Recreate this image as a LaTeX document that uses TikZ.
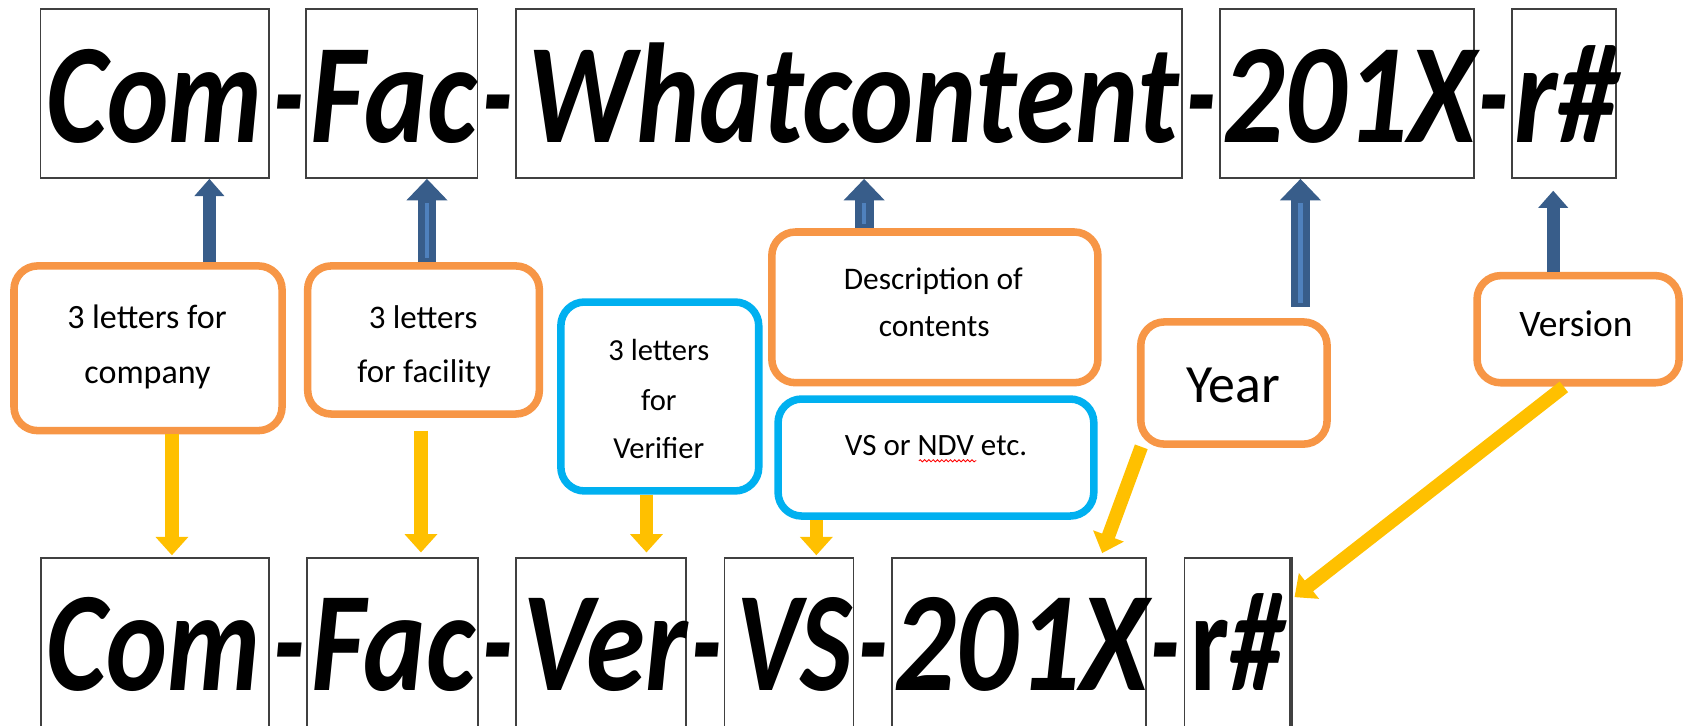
\documentclass[tikz,border=0pt]{standalone}
\usepackage{fontspec}
\setmainfont{Carlito}
\newfontfamily\bigf{Carlito}
\usepackage{graphicx}
\usetikzlibrary{arrows.meta,calc,decorations.pathmorphing}
\definecolor{arrblue}{HTML}{385D8A}
\definecolor{stripeblue}{HTML}{4F81BD}
\definecolor{orng}{HTML}{F79646}
\definecolor{cyanb}{HTML}{00B0F0}
\definecolor{yell}{HTML}{FFC000}
\definecolor{framec}{HTML}{404040}
\newlength\fitlen
\newcommand\fitw[2]{\settowidth\fitlen{#2}\pgfmathsetmacro\fitfac{#1/\fitlen}\scalebox{\fitfac}[1]{#2}}
\newcommand\BW{\bigf\fontsize{66pt}{70pt}\selectfont\bfseries\itshape}
\newcommand\BU{\bigf\fontsize{66pt}{70pt}\selectfont\bfseries\upshape}
\tikzset{
  wordbox/.style={draw=framec, line width=0.8pt, inner sep=0pt},
  bigtxt/.style={inner sep=0pt, anchor=base},
  obox/.style={draw=orng, line width=3.5pt, rounded corners=11pt, inner sep=0pt, fill=white},
  cbox/.style={draw=cyanb, line width=3.5pt, rounded corners=11pt, inner sep=0pt, fill=white},
  smalltxt/.style={inner sep=0pt, anchor=base},
  bluesm/.style={draw=arrblue, line width=6.25pt, -{Triangle[width=13.5pt,length=8pt]}},
  bluebig/.style={draw=arrblue, line width=8.75pt, -{Triangle[width=18.5pt,length=10pt]}},
  stripe/.style={draw=stripeblue, line width=2pt},
  yarrow/.style={draw=yell, line width=6.3pt, -{Triangle[width=14.7pt,length=8.5pt]}},
}
\begin{document}
\begin{tikzpicture}[x=0.5pt,y=-0.5pt]
\useasboundingbox (0,0) rectangle (1568,674);
\clip (0,0) rectangle (1568,674);
\fill[white] (0,0) rectangle (1568,674);

% top word boxes
\node[wordbox, minimum width=106.15pt, minimum height=78.45pt] (tCom) at (143.65,86.9) {};
\node[wordbox, minimum width=79.6pt, minimum height=78.45pt] (tFac) at (364,86.9) {};
\node[wordbox, minimum width=309.35pt, minimum height=78.45pt] (tWhat) at (788.35,86.9) {};
\node[wordbox, minimum width=118pt, minimum height=78.45pt] (tYear) at (1251,86.9) {};
\node[wordbox, minimum width=48.2pt, minimum height=78.45pt] (tRev) at (1452.8,86.9) {};

% top words
\node[bigtxt] (wCom) at (143.5,132) {\fitw{100.4pt}{\BW Com}};
\node[bigtxt] (wd1) at (267.9,132) {\fitw{14.15pt}{\BW -}};
\node[bigtxt] (wFac) at (365.75,132) {\fitw{77.15pt}{\BW Fac}};
\node[bigtxt] (wd2) at (462,132) {\fitw{14pt}{\BW -}};
\node[bigtxt] (wWhat) at (792.5,132) {\fitw{302.3pt}{\BW Whatcontent}};
\node[bigtxt] (wd3) at (1115.3,132) {\fitw{13.6pt}{\BW -}};
\node[bigtxt] (wYear) at (1253.1,132) {\fitw{117.9pt}{\BW 201X}};
\node[bigtxt] (wd4) at (1387.6,132) {\fitw{13.85pt}{\BW -}};
\node[bigtxt] (wRev) at (1455.1,132) {\fitw{48.3pt}{\BW r\#}};

% bottom word boxes
\node[wordbox, minimum width=105.8pt, minimum height=111pt] (bCom) at (143.8,629) {};
\node[wordbox, minimum width=79.35pt, minimum height=111pt] (bFac) at (364.35,629) {};
\node[wordbox, minimum width=79.2pt, minimum height=111pt] (bVer) at (558.2,629) {};
\node[wordbox, minimum width=59.85pt, minimum height=111pt] (bVS) at (732.85,629) {};
\node[wordbox, minimum width=118.05pt, minimum height=111pt] (bYear) at (946.55,629) {};
\node[wordbox, minimum width=49.1pt, minimum height=111pt] (bRev) at (1149.5,629) {};
\draw[framec, line width=1.6pt] (bRev.north east) -- (bRev.south east);

% bottom words
\node[bigtxt] (vCom) at (143,641) {\fitw{99.55pt}{\BW Com}};
\node[bigtxt] (vd1) at (268.5,641) {\fitw{14.5pt}{\BW -}};
\node[bigtxt] (vFac) at (365,641) {\fitw{76pt}{\BW Fac}};
\node[bigtxt] (vd2) at (461.75,641) {\fitw{14pt}{\BW -}};
\node[bigtxt] (vVer) at (562,641) {\fitw{77pt}{\BW Ver}};
\node[bigtxt] (vd3) at (656,641) {\fitw{14pt}{\BW -}};
\node[bigtxt] (vVS) at (737.6,641) {\fitw{53.9pt}{\BW VS}};
\node[bigtxt] (vd4) at (810.5,641) {\fitw{13.5pt}{\BW -}};
\node[bigtxt] (vYear) at (948.5,641) {\fitw{118.5pt}{\BW 201X}};
\node[bigtxt] (vd5) at (1082.3,641) {\fitw{13.5pt}{\BW -}};
\node[bigtxt] (vRev) at (1150.5,641) {\fitw{45pt}{\BU r\textit{\#}}};

\coordinate (yTail) at (1208,285);

% callout boxes
\node[obox, minimum width=124.5pt, minimum height=76.5pt] (cComp) at (137.5,323.5) {};
\node[obox, minimum width=107.6pt, minimum height=68.8pt] (cFac) at (393.4,315.8) {};
\node[cbox, minimum width=91.9pt, minimum height=87.75pt] (cVer) at (612.9,368.3) {};
\node[obox, minimum width=151.45pt, minimum height=70pt] (cDesc) at (868.4,285.5) {};
\node[cbox, minimum width=146.65pt, minimum height=54.35pt] (cVS) at (869.4,425) {};
\node[obox, minimum width=86.55pt, minimum height=56.75pt] (cYear) at (1146.2,355.8) {};
\node[obox, minimum width=93.85pt, minimum height=49.75pt] (cVersion) at (1465.9,305.8) {};

% callout texts
\node[smalltxt, font=\fontsize{15.8pt}{19pt}\selectfont] (tx1) at (136.5,305) {3 letters for};
\node[smalltxt, font=\fontsize{15.8pt}{19pt}\selectfont] (tx2) at (137,356) {company};
\node[smalltxt, font=\fontsize{15.3pt}{19pt}\selectfont] (tx3) at (393,305) {3 letters};
\node[smalltxt, font=\fontsize{15.3pt}{19pt}\selectfont] (tx4) at (394,355) {for facility};
\node[smalltxt, font=\fontsize{14.2pt}{17pt}\selectfont] (tx5) at (612,335) {3 letters};
\node[smalltxt, font=\fontsize{14.2pt}{17pt}\selectfont] (tx6) at (612,381) {for};
\node[smalltxt, font=\fontsize{14.2pt}{17pt}\selectfont] (tx7) at (612,426) {Verifier};
\node[smalltxt, font=\fontsize{14.6pt}{17pt}\selectfont] (tx8) at (867,268.6) {Description of};
\node[smalltxt, font=\fontsize{14.6pt}{17pt}\selectfont] (tx9) at (867.8,313) {contents};
\node[smalltxt, font=\fontsize{14.4pt}{17pt}\selectfont] (tx10) at (869.5,422.7) {VS or NDV etc.};
\node[smalltxt, font=\fontsize{25pt}{30pt}\selectfont] (tx11) at (1145.5,374) {Year};
\node[smalltxt, font=\fontsize{17.4pt}{21pt}\selectfont] (tx12) at (1464,313) {Version};
\draw[red, line width=0.4pt, decorate, decoration={snake, amplitude=0.5pt, segment length=2pt}] (853.6,428) -- (907,428);

% blue up arrows
\draw[bluesm] (cComp.north -| 194.5,0) -- (tCom.south -| 194.5,0);
\draw[bluebig] (cFac.north -| 396.6,0) -- (tFac.south -| 396.6,0);
\draw[stripe] ($(cFac.north -| 396.6,0)+(0,-4)$) -- ($(tFac.south -| 396.6,0)+(0,22)$);
\draw[bluebig] (cDesc.north -| 802.7,0) -- (tWhat.south -| 802.7,0);
\draw[stripe] ($(cDesc.north -| 802.7,0)+(0,-4)$) -- ($(tWhat.south -| 802.7,0)+(0,22)$);
\draw[bluebig] (yTail) -- (tYear.south -| 1208,0);
\draw[stripe] ($(yTail)+(0,-4)$) -- ($(tYear.south -| 1208,0)+(0,22)$);
\draw[bluesm, shorten >=5.5pt] (cVersion.north -| 1442.8,0) -- (tRev.south -| 1442.8,0);

% yellow down arrows
\draw[yarrow, shorten >=0.7pt] (cComp.south -| 159.7,0) -- (bCom.north -| 159.7,0);
\draw[yarrow, shorten <=6pt, shorten >=2pt] (cFac.south -| 391,0) -- (bFac.north -| 391,0);
\draw[yarrow, shorten >=2pt] (cVer.south -| 600.5,0) -- (bVer.north -| 600.5,0);
\draw[yarrow, shorten >=0.7pt] (cVS.south -| 758.3,0) -- (bVS.north -| 758.3,0);
\draw[yarrow] ($(cYear.south west)+(4,-1)$) -- ($(bYear.north west)+(196.1,-3.4)$);
\draw[yarrow] ($(cVersion.south)+(-13.2,0.3)$) -- ($(bRev.north east)+(3.1,37.5)$);
\end{tikzpicture}
\end{document}
